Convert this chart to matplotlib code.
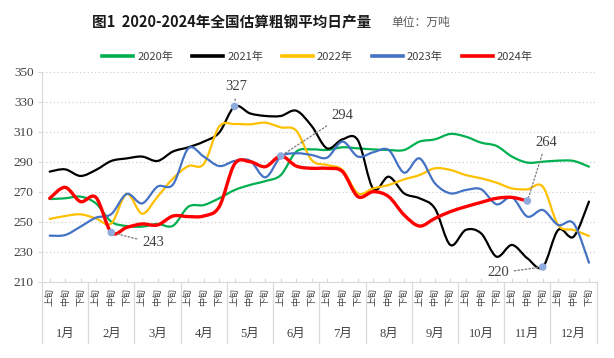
import matplotlib
matplotlib.use('Agg')
import matplotlib.pyplot as plt
import numpy as np
from matplotlib.path import Path
from matplotlib.patches import PathPatch
from matplotlib.lines import Line2D
import matplotlib.transforms as mtransforms

plt.rcParams['font.family'] = ['Noto Sans CJK SC', 'DejaVu Sans']
SERIF = ['Liberation Serif', 'Noto Sans CJK SC']

months = ['1月', '2月', '3月', '4月', '5月', '6月', '7月', '8月', '9月', '10月', '11月', '12月']
decades = ['上旬', '中旬', '下旬']

y2020 = [265.3, 265.8, 266.9, 262.4, 250.2, 247.3, 246.9, 248.7, 247.5, 260.2, 261.3, 265.8,
         271.3, 274.7, 277.3, 281.3, 296.9, 298.4, 298.0, 299.8, 299.1, 298.4, 298.0, 298.0,
         303.6, 305.1, 308.7, 306.9, 302.9, 300.7, 293.6, 289.6, 290.2, 290.9, 290.7, 286.9]
y2021 = [283.6, 285.1, 280.7, 284.7, 290.7, 292.4, 293.6, 290.7, 297.0, 299.8, 303.6, 309.6,
         327.0, 322.4, 320.7, 320.7, 324.2, 314.0, 299.1, 305.1, 304.5, 272.0, 280.2, 269.1,
         265.8, 259.0, 234.7, 244.7, 242.4, 226.9, 234.7, 225.8, 220.0, 244.7, 240.2, 263.6]
y2022 = [252.0, 254.0, 255.1, 252.4, 249.1, 268.7, 255.5, 266.9, 279.0, 287.3, 288.7, 313.6,
         315.3, 315.1, 316.2, 313.1, 310.9, 291.3, 288.0, 284.7, 269.1, 272.4, 274.7, 278.4,
         281.3, 285.8, 284.7, 281.3, 279.1, 276.2, 272.4, 271.8, 273.6, 248.0, 244.7, 240.7]
y2023 = [240.9, 241.3, 246.9, 252.9, 255.3, 268.7, 262.4, 273.6, 275.0, 299.1, 293.6, 287.3,
         290.7, 290.9, 279.8, 293.6, 295.8, 294.7, 292.9, 303.6, 293.6, 296.5, 298.0, 282.9,
         292.4, 275.8, 269.1, 271.3, 271.8, 261.8, 266.4, 253.6, 258.0, 248.0, 249.1, 222.9]
y2024 = [265.8, 273.1, 263.6, 266.4, 243.0, 246.4, 248.7, 248.0, 254.0, 253.6, 254.0, 260.2,
         288.7, 290.2, 286.9, 294.0, 287.3, 285.8, 285.8, 283.6, 266.9, 270.2, 266.9, 254.7,
         247.3, 252.4, 256.9, 260.2, 263.1, 265.8, 266.4, 264.0]

series = [('2020年', y2020, '#00B050', 1.6),
          ('2021年', y2021, '#000000', 1.6),
          ('2022年', y2022, '#FFC000', 1.6),
          ('2023年', y2023, '#4472C4', 1.6),
          ('2024年', y2024, '#FF0000', 2.4)]


def smooth_path(xs, ys):
    pts = np.column_stack([xs, ys])
    n = len(pts)
    verts = [pts[0]]
    codes = [Path.MOVETO]
    for i in range(n - 1):
        p0 = pts[max(i - 1, 0)]
        p1 = pts[i]
        p2 = pts[i + 1]
        p3 = pts[min(i + 2, n - 1)]
        c1 = p1 + (p2 - p0) / 6
        c2 = p2 - (p3 - p1) / 6
        verts += [c1, c2, p2]
        codes += [Path.CURVE4] * 3
    return Path(verts, codes)


fig = plt.figure(figsize=(6.14, 3.58), dpi=100)
ax = fig.add_axes([42 / 614, 1 - 282 / 358, 554.7 / 614, 210 / 358])

for name, vals, color, lw in series:
    xs = np.arange(len(vals))
    ax.add_patch(PathPatch(smooth_path(xs, vals), fill=False, edgecolor=color,
                           lw=lw, capstyle='round', joinstyle='round', zorder=3))

# labelled points: series, index, text position, alignment
ann = [(y2024, 4, (6.0, 236.0), 'left'),
       (y2021, 12, (12.1, 340.0), 'center'),
       (y2024, 15, (18.3, 321.0), 'left'),
       (y2024, 31, (32.2, 303.0), 'center'),
       (y2021, 32, (29.8, 216.0), 'right')]
for vals, i, (tx, ty), ha in ann:
    ax.scatter([i], [vals[i]], s=30, color='#8FAADC', zorder=5, edgecolors='none')
    ax.annotate(f'{vals[i]:.0f}', xy=(i, vals[i]), xytext=(tx, ty), ha=ha, va='center',
                fontsize=10.5, family=SERIF, color='#404040',
                arrowprops=dict(arrowstyle='-', linestyle=':', color='#808080', lw=1,
                                shrinkA=2, shrinkB=3), zorder=6)

ax.set_xlim(-0.5, 35.5)
ax.set_ylim(210, 350)
ax.set_yticks(np.arange(210, 351, 20))
ax.set_yticklabels([str(v) for v in range(210, 351, 20)], family=SERIF, fontsize=9.5, color='#404040')
for v in range(230, 351, 20):
    ax.axhline(v, color='#D0D0D0', lw=0.9, ls=(0, (1, 2)), zorder=1)

ax.set_xticks(np.arange(36))
ax.set_xticklabels(decades * 12, rotation=90, fontsize=6.5, color='#404040')
ax.tick_params(axis='x', direction='in', length=3, color='#D9D9D9', pad=4)
ax.tick_params(axis='y', length=3, color='#D9D9D9', pad=3)

for s in ['top', 'right']:
    ax.spines[s].set_visible(False)
for s in ['left', 'bottom']:
    ax.spines[s].set_color('#D9D9D9')

trans = mtransforms.blended_transform_factory(ax.transData, ax.transAxes)
for k in range(13):
    ax.plot([k * 3 - 0.5] * 2, [0, -0.29], transform=trans, color='#D9D9D9', lw=0.9, clip_on=False)
for k, m in enumerate(months):
    ax.text(k * 3 + 1, -0.245, m, transform=trans, ha='center', va='center',
            fontsize=9, family=SERIF, color='#404040')

fig.text(0.378, 0.938, '图1  2020-2024年全国估算粗钢平均日产量', ha='center', va='center',
         fontsize=10.5, color='#1a1a1a', fontweight='bold')
fig.text(0.638, 0.938, '单位：万吨', ha='left', va='center', fontsize=8.5, color='#595959')

handles = [Line2D([], [], color=c, lw=2.6) for _, _, c, _ in series]
fig.legend(handles, [n for n, _, _, _ in series], loc='center', bbox_to_anchor=(0.517, 0.841),
           ncol=5, frameon=False, fontsize=8, handlelength=2.8, handletextpad=0.35,
           columnspacing=1.7, labelcolor='#404040')

fig.savefig('out.png', dpi=100)
